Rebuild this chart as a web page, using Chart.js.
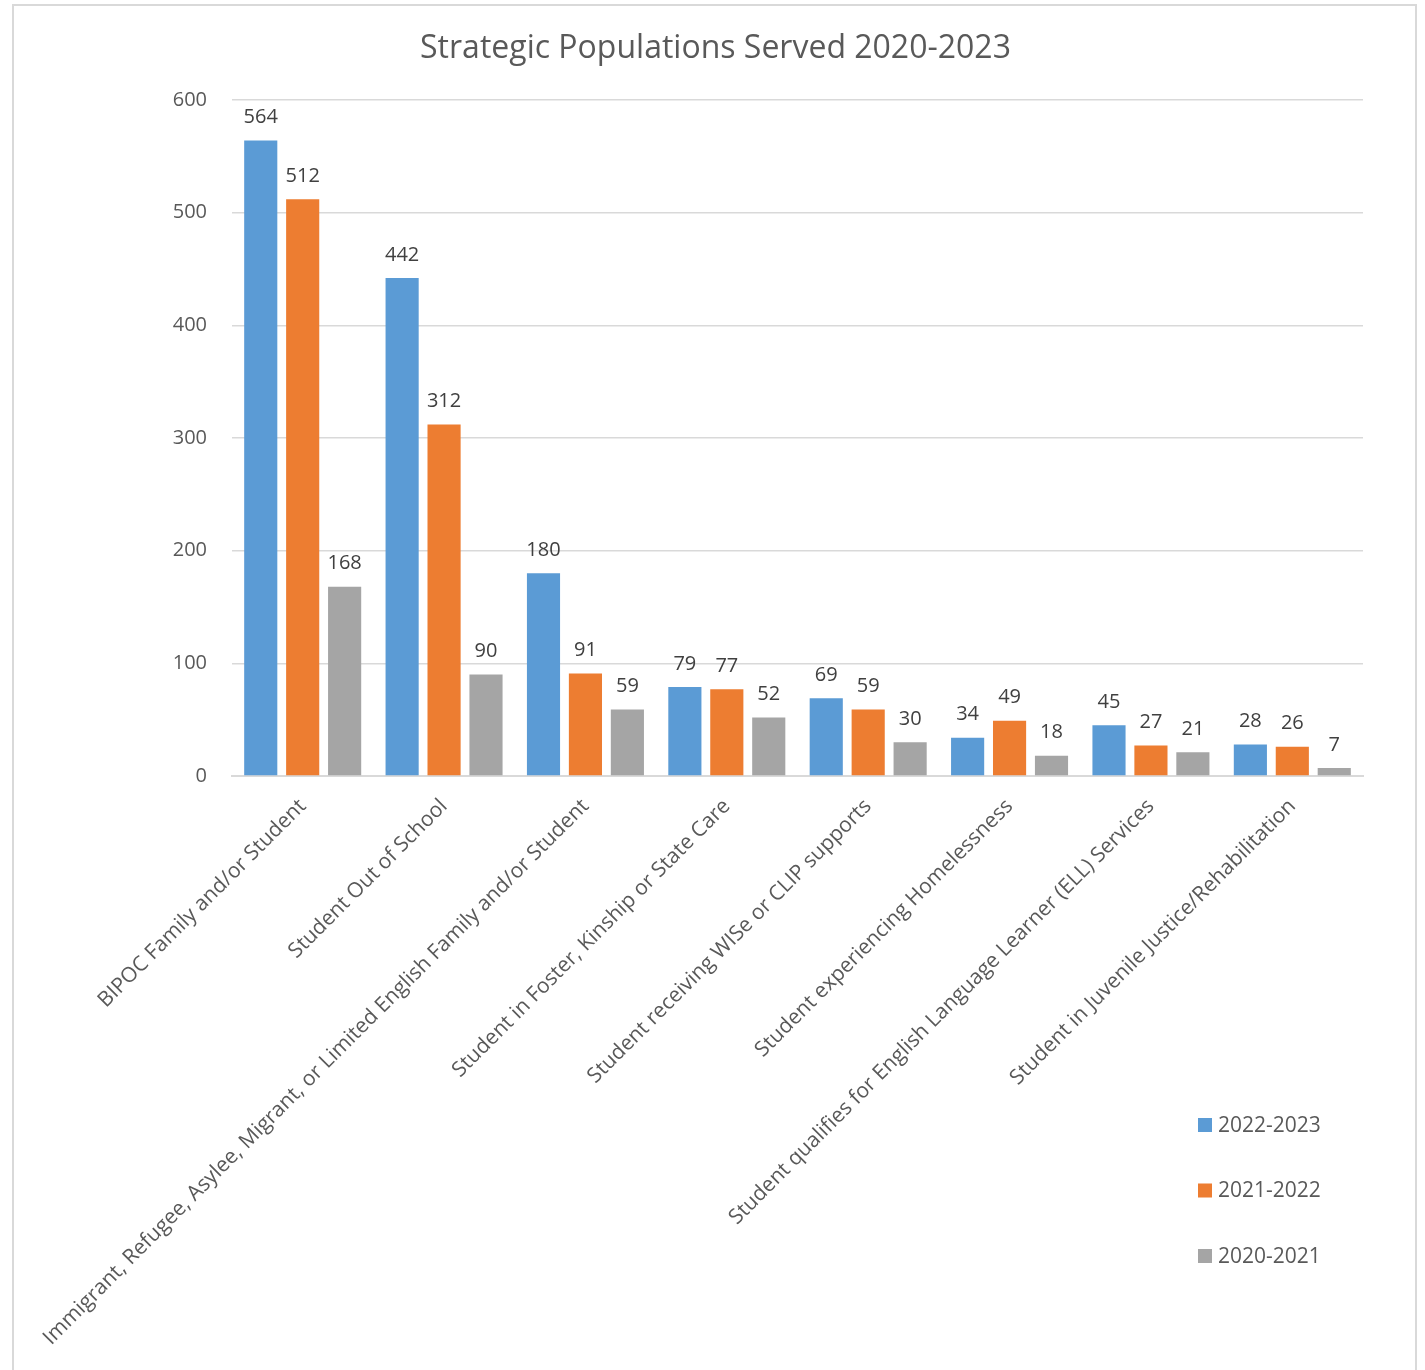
<!DOCTYPE html>
<html>
<head>
<meta charset="utf-8">
<script src="https://cdn.jsdelivr.net/npm/chart.js@4"></script>
<style>
  body { margin: 0; background: #fff; }
  #wrap { position: relative; width: 1425px; height: 1370px; }
  #frame { position: absolute; left: 12px; top: 4px; width: 1405px; height: 1380px; border: 2px solid #d9d9d9; box-sizing: border-box; }
  #graph { position: absolute; left: 0; top: 0; }
</style>
</head>
<body>
<div id="wrap">
  <div id="frame"></div>
  <canvas id="graph" width="1425" height="1370"></canvas>
</div>
<script>
const categories = [
  "BIPOC Family and/or Student",
  "Student Out of School",
  "Immigrant, Refugee, Asylee, Migrant, or Limited English Family and/or Student",
  "Student in Foster, Kinship or State Care",
  "Student receiving WISe or CLIP supports",
  "Student experiencing Homelessness",
  "Student qualifies for English Language Learner (ELL) Services",
  "Student in Juvenile Justice/Rehabilitation"
];
const seriesNames = ["2022-2023", "2021-2022", "2020-2021"];
const values2022 = [564, 442, 180, 79, 69, 34, 45, 28];
const values2021 = [512, 312, 91, 77, 59, 49, 27, 26];
const values2020 = [168, 90, 59, 52, 30, 18, 21, 7];
const colors = ["#5b9bd5", "#ed7d31", "#a5a5a5"];
const yTicks = [0, 100, 200, 300, 400, 500, 600];
const chartTitle = "Strategic Populations Served 2020-2023";

const FONT = "'Open Sans', 'Noto Sans', sans-serif";

// title centred on the whole canvas, like the original
const pageTitle = {
  id: "pageTitle",
  afterDraw(chart) {
    const ctx = chart.ctx;
    ctx.save();
    ctx.font = "32px " + FONT;
    ctx.fillStyle = "#595959";
    ctx.textAlign = "center";
    ctx.textBaseline = "middle";
    ctx.fillText(chartTitle, chart.width / 2 + 3, 49);
    ctx.restore();
  }
};

// value labels above each bar
const barLabels = {
  id: "barLabels",
  afterDatasetsDraw(chart) {
    const ctx = chart.ctx;
    ctx.save();
    ctx.font = "20px " + FONT;
    ctx.fillStyle = "#404040";
    ctx.textAlign = "center";
    ctx.textBaseline = "bottom";
    chart.data.datasets.forEach((ds, i) => {
      chart.getDatasetMeta(i).data.forEach((bar, j) => {
        ctx.fillText(ds.data[j], bar.x, bar.y - 13);
      });
    });
    ctx.restore();
  }
};

// vertical legend in the lower right corner
const sideLegend = {
  id: "sideLegend",
  afterDraw(chart) {
    const ctx = chart.ctx;
    ctx.save();
    ctx.font = "21px " + FONT;
    ctx.textBaseline = "middle";
    chart.data.datasets.forEach((ds, i) => {
      const y = 1125 + i * 65.5;
      ctx.fillStyle = ds.backgroundColor;
      ctx.fillRect(1198, y - 7, 14, 14);
      ctx.fillStyle = "#595959";
      ctx.fillText(ds.label, 1218, y + 1);
    });
    ctx.restore();
  }
};

const ctx = document.getElementById("graph").getContext("2d");
new Chart(ctx, {
  type: "bar",
  data: {
    labels: categories,
    datasets: [
      { label: seriesNames[0], data: values2022, backgroundColor: colors[0] },
      { label: seriesNames[1], data: values2021, backgroundColor: colors[1] },
      { label: seriesNames[2], data: values2020, backgroundColor: colors[2] }
    ]
  },
  options: {
    responsive: false,
    animation: false,
    layout: { padding: { left: 0, right: 62, top: 100, bottom: 0 } },
    datasets: {
      bar: { barPercentage: 0.79, categoryPercentage: 0.89 }
    },
    scales: {
      x: {
        grid: { display: false },
        border: { color: "#d9d9d9", width: 2 },
        ticks: {
          autoSkip: false,
          minRotation: 45,
          maxRotation: 45,
          padding: 10,
          color: "#595959",
          font: { family: FONT, size: 21 }
        },
        afterFit(scale) { scale.height = 594; }
      },
      y: {
        min: 0,
        max: 600,
        afterBuildTicks(scale) { scale.ticks = yTicks.map(v => ({ value: v })); },
        grid: { color: "#d9d9d9", lineWidth: 1.5, drawTicks: false },
        border: { display: false },
        ticks: {
          padding: 25,
          color: "#595959",
          font: { family: FONT, size: 20 }
        },
        afterFit(scale) { scale.width = 232; }
      }
    },
    plugins: {
      legend: { display: false },
      tooltip: { enabled: false },
      title: { display: false }
    }
  },
  plugins: [pageTitle, barLabels, sideLegend]
});
</script>
</body>
</html>
